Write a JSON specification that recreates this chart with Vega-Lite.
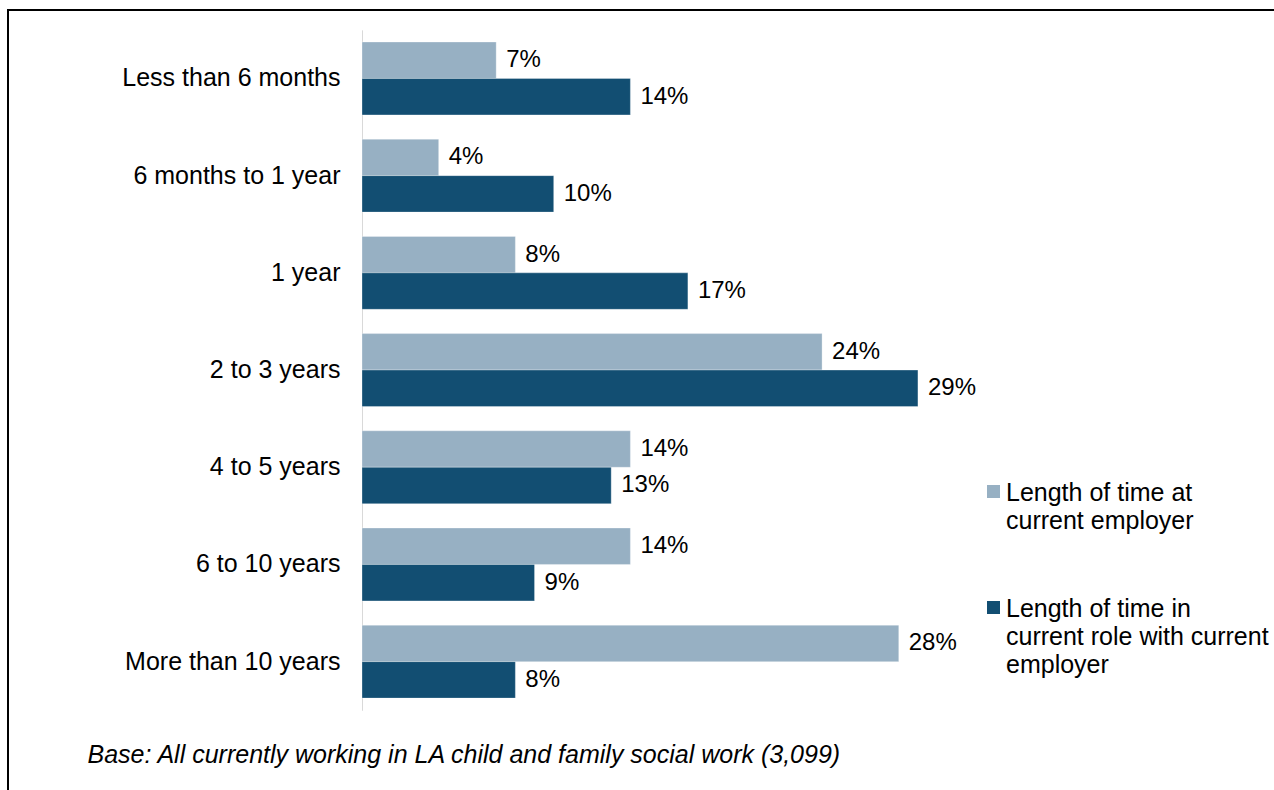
{
  "$schema": "https://vega.github.io/schema/vega-lite/v6.json",
  "autosize": "none",
  "padding": {"left": 8, "top": 10, "right": 0, "bottom": 0},
  "width": 1280,
  "height": 784,
  "background": "white",
  "config": {
    "font": "Liberation Sans",
    "view": {"stroke": "#000000", "strokeWidth": 2}
  },
  "data": {
    "values": [
      {"category": "Less than 6 months", "series": "Length of time at current employer", "value": 0.07},
      {"category": "Less than 6 months", "series": "Length of time in current role with current employer", "value": 0.14},
      {"category": "6 months to 1 year", "series": "Length of time at current employer", "value": 0.04},
      {"category": "6 months to 1 year", "series": "Length of time in current role with current employer", "value": 0.10},
      {"category": "1 year", "series": "Length of time at current employer", "value": 0.08},
      {"category": "1 year", "series": "Length of time in current role with current employer", "value": 0.17},
      {"category": "2 to 3 years", "series": "Length of time at current employer", "value": 0.24},
      {"category": "2 to 3 years", "series": "Length of time in current role with current employer", "value": 0.29},
      {"category": "4 to 5 years", "series": "Length of time at current employer", "value": 0.14},
      {"category": "4 to 5 years", "series": "Length of time in current role with current employer", "value": 0.13},
      {"category": "6 to 10 years", "series": "Length of time at current employer", "value": 0.14},
      {"category": "6 to 10 years", "series": "Length of time in current role with current employer", "value": 0.09},
      {"category": "More than 10 years", "series": "Length of time at current employer", "value": 0.28},
      {"category": "More than 10 years", "series": "Length of time in current role with current employer", "value": 0.08}
    ]
  },
  "encoding": {
    "y": {
      "field": "category",
      "type": "nominal",
      "sort": null,
      "scale": {"range": [19.85, 700.25], "paddingInner": 0.25, "paddingOuter": 0.125},
      "axis": {
        "title": null,
        "orient": "left",
        "offset": -354,
        "ticks": false,
        "tickSize": 0,
        "labelPadding": 22,
        "labelFontSize": 25,
        "labelColor": "#000000",
        "labelFont": "Liberation Sans",
        "domainColor": "#d9d9d9",
        "domainWidth": 1,
        "grid": false,
        "labelLimit": 400
      }
    },
    "yOffset": {
      "field": "series",
      "type": "nominal",
      "sort": null,
      "scale": {"paddingInner": 0, "paddingOuter": 0}
    },
    "x": {
      "field": "value",
      "type": "quantitative",
      "scale": {"domain": [0, 0.3], "range": [354, 929.1], "nice": false, "zero": true},
      "axis": {
        "title": "Base: All currently working in LA child and family social work (3,099)",
        "titleFont": "Liberation Sans",
        "titleFontSize": 25,
        "titleFontStyle": "italic",
        "titleFontWeight": "normal",
        "titleColor": "#000000",
        "titleAlign": "left",
        "titleAnchor": "start",
        "titleBaseline": "alphabetic",
        "titleX": 79,
        "titleY": -32,
        "labels": false,
        "ticks": false,
        "domain": false,
        "grid": false
      }
    }
  },
  "layer": [
    {
      "mark": {"type": "bar", "stroke": "#ffffff", "strokeWidth": 0.5, "strokeOpacity": 0.6},
      "encoding": {
        "color": {
          "field": "series",
          "type": "nominal",
          "sort": null,
          "scale": {
            "domain": ["Length of time at current employer", "Length of time in current role with current employer"],
            "range": ["#97b0c3", "#124e72"]
          },
          "legend": {
            "title": null,
            "orient": "none",
            "legendX": 973,
            "legendY": 469,
            "padding": 0,
            "symbolType": "square",
            "symbolSize": 169,
            "symbolStrokeWidth": 0,
            "labelFont": "Liberation Sans",
            "labelFontSize": 25,
            "labelColor": "#000000",
            "labelBaseline": "top",
            "labelOffset": 0,
            "labelLimit": 500,
            "rowPadding": 61,
            "labelExpr": "datum.label == 'Length of time at current employer' ? ['Length of time at', 'current employer'] : ['Length of time in', 'current role with current', 'employer']",
            "encoding": {
              "labels": {"dy": {"value": -11}, "lineHeight": {"value": 28}}
            }
          }
        }
      }
    },
    {
      "mark": {"type": "text", "align": "left", "baseline": "middle", "dx": 10, "fontSize": 24, "color": "#000000", "font": "Liberation Sans"},
      "encoding": {
        "text": {"field": "value", "type": "quantitative", "format": ".0%"}
      }
    }
  ]
}
